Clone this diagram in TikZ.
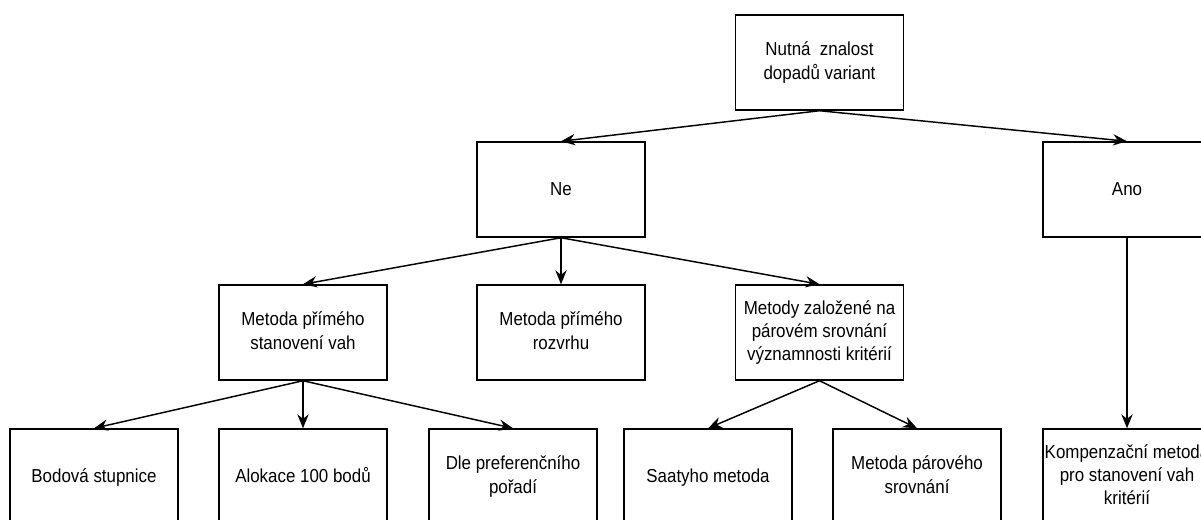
\documentclass[tikz,border=0pt]{standalone}
\usepackage{fontspec}
\setmainfont{Liberation Sans}[FakeStretch=0.9]
\usetikzlibrary{arrows.meta}

\begin{document}
\begin{tikzpicture}[x=0.75pt,y=-0.75pt,
    box/.style={draw,line width=1.1pt,minimum width=126pt,minimum height=71.25pt,
      inner sep=0pt,align=center,font=\fontsize{14.1}{17.6}\selectfont,
      execute at begin node={\vphantom{Á}},execute at end node={\vphantom{g}}},
    arr/.style={-{Stealth[length=10.5pt,width=8.5pt,inset=3.5pt]},line width=1.1pt}]
  \useasboundingbox (0,0) rectangle (1201,520);
  \clip (0,0) rectangle (1201,520);
  \fill[white] (0,0) rectangle (1201,520);
  % root
  \node[box] (nutna) at (819.5,62.5) {Nutná\ \ znalost\\dopadů variant};
  % answers
  \node[box] (ne)  at (561,189.5)  {Ne};
  \node[box] (ano) at (1127,189.5) {Ano};
  % methods under Ne
  \node[box] (stanoveni) at (303,332.5)   {Metoda přímého\\stanovení vah};
  \node[box] (rozvrh)    at (561,332.5)   {Metoda přímého\\rozvrhu};
  \node[box] (parove)    at (819.5,332.5) {Metody založené na\\párovém srovnání\\významnosti kritérií};
  % bottom row
  \node[box] (bodova)   at (94,476.5)   {Bodová stupnice};
  \node[box] (alokace)  at (303,476.5)  {Alokace 100 bodů};
  \node[box] (poradi)   at (513,476.5)  {Dle preferenčního\\pořadí};
  \node[box] (saaty)    at (708,476.5)  {Saatyho metoda};
  \node[box] (srovnani) at (917,476.5)  {Metoda párového\\srovnání};
  \node[box] (kompenz)  at (1127,476.5) {Kompenzační metoda\\pro stanovení vah\\kritérií};
  % connectors
  \draw[arr] (nutna.south) -- (ne.north);
  \draw[arr] (nutna.south) -- (ano.north);
  \draw[arr] (ne.south) -- (stanoveni.north);
  \draw[arr] (ne.south) -- (rozvrh.north);
  \draw[arr] (ne.south) -- (parove.north);
  \draw[arr] (ano.south) -- (kompenz.north);
  \draw[arr] (stanoveni.south) -- (bodova.north);
  \draw[arr] (stanoveni.south) -- (alokace.north);
  \draw[arr] (stanoveni.south) -- (poradi.north);
  \draw[arr] (parove.south) -- (saaty.north);
  \draw[arr] (parove.south) -- (srovnani.north);
\end{tikzpicture}
\end{document}
